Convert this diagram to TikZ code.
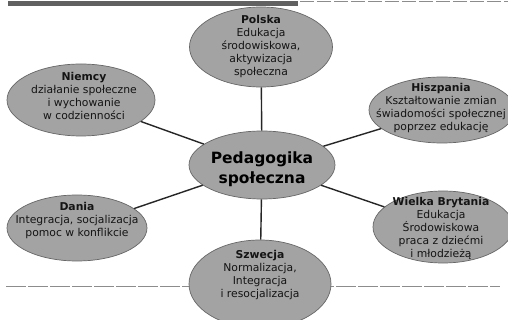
\documentclass[tikz,border=0pt]{standalone}
\usepackage{fontspec}
\setmainfont{DejaVu Sans}
\usetikzlibrary{shapes.geometric}
\begin{document}
\begin{tikzpicture}[x=1pt,y=-1pt,
  blob/.style={ellipse, fill=black!36, draw=black!60, line width=0.7pt, inner sep=0pt},
  lbl/.style={align=center, font=\fontsize{10.8}{13}\selectfont, text=black!92, inner sep=0pt},
  link/.style={line width=1.4pt, draw=black!85},
  rule/.style={draw=black!45, line width=0.8pt}]
\useasboundingbox (0,0) rectangle (508,320);
\clip (0,0) rectangle (508,320);
\fill[white] (0,0) rectangle (508,320);
% top band
\fill[black!62] (8,1) rectangle (298,6);
\draw[rule, dash pattern=on 14pt off 3pt] (300,1.5) -- (508,1.5);
% bottom rule
\draw[rule, dash pattern=on 20pt off 2pt] (6,286.5) -- (500,286.5);
% ellipses
\node[blob, minimum width=143pt, minimum height=80pt] (pl) at (261,47) {};
\node[blob, minimum width=148pt, minimum height=72pt] (ni) at (81,100) {};
\node[blob, minimum width=146pt, minimum height=66pt] (hi) at (442,110) {};
\node[blob, minimum width=146pt, minimum height=68pt] (ce) at (262,165) {};
\node[blob, minimum width=140pt, minimum height=66pt] (da) at (77,228) {};
\node[blob, minimum width=140pt, minimum height=72pt] (wb) at (443,227) {};
\node[blob, minimum width=142pt, minimum height=88pt] (sz) at (260,284) {};
% connectors
\draw[link] (ce) -- (pl);
\draw[link] (ce) -- (ni);
\draw[link] (ce) -- (hi);
\draw[link] (ce) -- (da);
\draw[link] (ce) -- (wb);
\draw[link] (ce) -- (sz);
% texts
\node[lbl] (plt) at (261,47) {\textbf{Polska}\\Edukacja\\środowiskowa,\\aktywizacja\\społeczna};
\node[lbl] (nit) at (84,96) {\textbf{Niemcy}\\działanie społeczne\\i wychowanie\\w codzienności};
\node[lbl] (hit) at (441,108) {\textbf{Hiszpania}\\Kształtowanie zmian\\świadomości społecznej\\poprzez edukację};
\node[lbl, font=\fontsize{15.5}{20}\selectfont\bfseries, text=black] (cet) at (262,169) {Pedagogika\\społeczna};
\node[lbl] (dat) at (77,221) {\textbf{Dania}\\Integracja, socjalizacja\\pomoc w konflikcie};
\node[lbl] (wbt) at (441,228) {\textbf{Wielka Brytania}\\Edukacja\\Środowiskowa\\praca z dziećmi\\i młodzieżą};
\node[lbl] (szt) at (260,275) {\textbf{Szwecja}\\Normalizacja,\\Integracja\\i resocjalizacja};
\end{tikzpicture}
\end{document}
